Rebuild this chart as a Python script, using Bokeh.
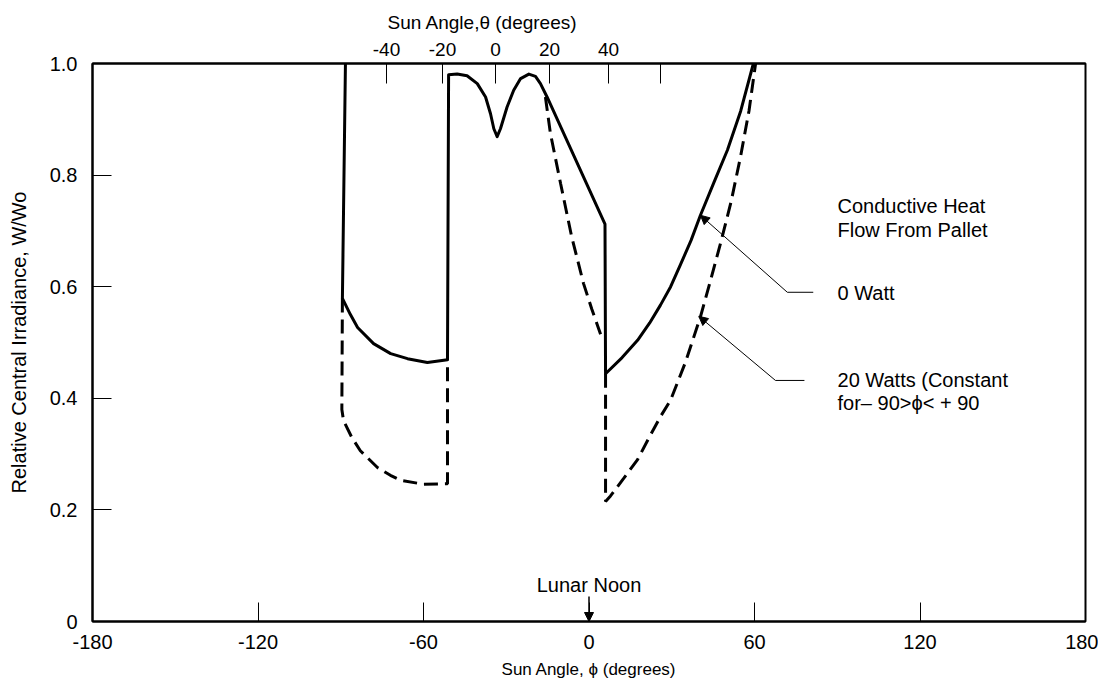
from bokeh.plotting import figure
from bokeh.models import Range1d, LinearAxis, FixedTicker, Label, Arrow, NormalHead, Title
from bokeh.embed import file_html
from bokeh.resources import INLINE

# ---- data ----
phi_ticks = [-180, -120, -60, 0, 60, 120, 180]
phi_labels = ["-180", "-120", "-60", "0", "60", "120", "180"]
irr_ticks = [0, 0.2, 0.4, 0.6, 0.8, 1.0]
irr_labels = ["0", "0.2", "0.4", "0.6", "0.8", "1.0"]
theta_tick_phi = [-73.4, -53.1, -33.9, -14.3, 7.1, 25.9]
theta_labels = ["-40", "-20", "0", "20", "40", ""]

# 0 Watt (solid)
w0_phi = [-88.3, -89.4, -86.5, -83.9, -78.1, -71.9, -65.8, -58.6, -51.3,
          -50.9, -47.8, -44.2, -40.5, -37.5, -35.7, -34.5, -33.3, -32.1,
          -29.7, -27.3, -24.8, -21.8, -19.4, -17.6, -15.2, 5.8,
          6.0, 12.0, 17.6, 22.0, 25.9, 29.6, 33.2, 37.0, 40.4, 45.3, 50.2, 55.0, 59.6]
w0_val = [1.0, 0.579, 0.550, 0.527, 0.498, 0.480, 0.471, 0.464, 0.469,
          0.980, 0.981, 0.978, 0.964, 0.940, 0.910, 0.883, 0.869, 0.883,
          0.922, 0.952, 0.973, 0.981, 0.977, 0.964, 0.940, 0.712,
          0.444, 0.473, 0.504, 0.535, 0.567, 0.600, 0.640, 0.683, 0.728, 0.787, 0.845, 0.915, 1.0]

# 20 Watts (dashed)
w20_left_phi = [-89.4, -89.6, -89.0, -86.0, -82.9, -76.7, -72.0, -68.3, -60.0, -51.3, -51.3]
w20_left_val = [0.579, 0.380, 0.360, 0.330, 0.306, 0.276, 0.262, 0.253, 0.246, 0.247, 0.469]
w20_mid_phi = [-15.8, -14.0, -10.3, -6.3, -2.0, 1.0, 4.2]
w20_mid_val = [0.940, 0.875, 0.785, 0.690, 0.606, 0.560, 0.515]
w20_right_phi = [6.0, 6.0, 7.8, 12.5, 17.6, 21.5, 25.9, 29.6, 35.0, 40.4, 44.0, 47.7, 51.5, 54.9, 58.0, 60.4]
w20_right_val = [0.444, 0.215, 0.225, 0.256, 0.290, 0.327, 0.367, 0.397, 0.465, 0.546, 0.610, 0.678, 0.752, 0.832, 0.915, 1.0]

FONT = "Liberation Sans"

p = figure(width=1098, height=689, x_range=Range1d(-180, 180), y_range=Range1d(0, 1),
           output_backend="svg", toolbar_location=None,
           min_border_left=92, min_border_right=13, min_border_top=63, min_border_bottom=68)
p.grid.visible = False
p.outline_line_color = "black"
p.outline_line_width = 2
p.background_fill_color = "white"
p.border_fill_color = "white"

for ax in (p.xaxis[0], p.yaxis[0]):
    ax.axis_line_width = 2
    ax.major_tick_out = 0
    ax.major_tick_in = 19
    ax.major_tick_line_width = 1
    ax.minor_tick_line_color = None
    ax.major_label_text_font = FONT
    ax.major_label_text_font_size = "20px"
    ax.major_label_text_color = "black"
    ax.axis_label_text_font = FONT
    ax.axis_label_text_font_style = "normal"
    ax.axis_label_text_color = "black"

p.xaxis.ticker = FixedTicker(ticks=phi_ticks)
p.xaxis.major_label_overrides = dict(zip(phi_ticks, phi_labels))
p.xaxis.major_label_standoff = 13
p.xaxis.axis_label = "Sun Angle, ϕ (degrees)"
p.xaxis.axis_label_text_font_size = "17px"
p.xaxis.axis_label_standoff = 8

p.yaxis.ticker = FixedTicker(ticks=irr_ticks)
p.yaxis.major_label_overrides = dict(zip(irr_ticks, irr_labels))
p.yaxis.major_label_standoff = 15
p.yaxis.axis_label = "Relative Central Irradiance, W/Wo"
p.yaxis.axis_label_text_font_size = "20px"
p.yaxis.axis_label_standoff = 17

top = LinearAxis(ticker=FixedTicker(ticks=theta_tick_phi),
                 major_label_overrides=dict(zip(theta_tick_phi, theta_labels)))
top.axis_line_width = 2
top.major_tick_out = 0
top.major_tick_in = 20
top.minor_tick_line_color = None
top.major_label_text_font = FONT
top.major_label_text_font_size = "19px"
top.major_label_text_color = "black"
top.major_label_standoff = 8
p.add_layout(top, "above")

p.add_layout(Title(text="Sun Angle,θ (degrees)", align="left", offset=295,
                   text_font=FONT, text_font_size="19px", text_font_style="normal",
                   text_color="black", standoff=14), "above")

# curves
p.line(w0_phi, w0_val, line_color="black", line_width=3, line_join="round")
for xs, ys in ((w20_left_phi, w20_left_val), (w20_mid_phi, w20_mid_val), (w20_right_phi, w20_right_val)):
    p.line(xs, ys, line_color="black", line_width=3, line_dash="14 7")

# annotations
ann_font = "20px"
for x, y, t in ((90.1, 0.7455, "Conductive Heat"), (90.1, 0.7025, "Flow From Pallet"),
                (90.1, 0.5896, "0 Watt"), (90.1, 0.4319, "20 Watts (Constant"),
                (90.1, 0.3907, "for– 90>ϕ< + 90")):
    p.add_layout(Label(x=x, y=y, text=t, text_align="left", text_baseline="middle",
                       text_font=FONT, text_font_size=ann_font, text_color="black"))

p.line([71.9, 81.3], [0.590, 0.590], line_color="black", line_width=1)
p.add_layout(Arrow(x_start=71.9, y_start=0.590, x_end=40.4, y_end=0.728, line_width=1,
                   end=NormalHead(size=9, fill_color="black", line_color="black")))
p.line([67.6, 78.1], [0.432, 0.432], line_color="black", line_width=1)
p.add_layout(Arrow(x_start=67.6, y_start=0.432, x_end=39.8, y_end=0.547, line_width=1,
                   end=NormalHead(size=9, fill_color="black", line_color="black")))

p.add_layout(Label(x=0, y=0.065, text="Lunar Noon", text_align="center", text_baseline="middle",
                   text_font=FONT, text_font_size="20px", text_color="black"))
p.add_layout(Arrow(x_start=0, y_start=0.045, x_end=0, y_end=0.0, line_width=1.5,
                   end=NormalHead(size=9, fill_color="black", line_color="black")))

open("out.html", "w").write(file_html(p, INLINE))
